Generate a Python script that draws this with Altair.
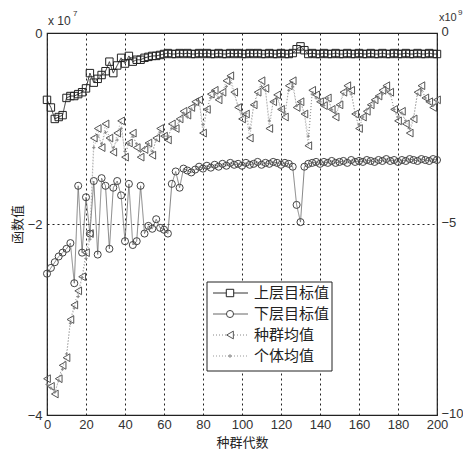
import altair as alt
import pandas as pd

# generations (every 2nd generation)
gens = list(range(0, 201, 2))

series_names = ["上层目标值", "下层目标值", "种群均值", "个体均值"]

# left axis (x 10^7)
upper = [
    -0.70, -0.78, -0.90, -0.88, -0.86, -0.68, -0.66, -0.66, -0.64, -0.62,
    -0.58, -0.42, -0.52, -0.48, -0.44, -0.40, -0.30, -0.42, -0.34, -0.26,
    -0.32, -0.24, -0.30, -0.28, -0.28, -0.26, -0.25, -0.24, -0.24, -0.23,
    -0.22, -0.21, -0.22, -0.22, -0.21, -0.22, -0.21, -0.22, -0.22, -0.21,
    -0.22, -0.21, -0.22, -0.22, -0.21, -0.22, -0.22, -0.21, -0.22, -0.21,
    -0.22, -0.22, -0.21, -0.22, -0.21, -0.22, -0.22, -0.21, -0.22, -0.22,
    -0.21, -0.22, -0.22, -0.21, -0.17, -0.14, -0.18, -0.22, -0.21, -0.22,
    -0.22, -0.21, -0.22, -0.22, -0.21, -0.22, -0.22, -0.21, -0.22, -0.22,
    -0.21, -0.22, -0.22, -0.21, -0.22, -0.22, -0.21, -0.22, -0.22, -0.21,
    -0.22, -0.22, -0.21, -0.22, -0.22, -0.21, -0.22, -0.22, -0.21, -0.22,
    -0.22,
]
lower = [
    -2.52, -2.46, -2.40, -2.34, -2.30, -2.26, -2.20, -2.62, -1.60, -2.30,
    -1.72, -2.10, -1.55, -2.32, -1.52, -1.60, -2.26, -1.62, -1.55, -1.70,
    -2.18, -1.58, -2.22, -2.18, -1.60, -2.10, -2.02, -2.05, -1.95, -2.04,
    -2.06, -2.10, -1.58, -1.45, -1.62, -1.42, -1.44, -1.46, -1.43, -1.40,
    -1.42, -1.39, -1.41, -1.38, -1.40, -1.37, -1.39, -1.36, -1.38, -1.37,
    -1.39, -1.36, -1.38, -1.37, -1.35, -1.38, -1.36, -1.37, -1.35, -1.36,
    -1.38, -1.36, -1.37, -1.40, -1.80, -1.98, -1.40, -1.37, -1.36, -1.35,
    -1.37, -1.35, -1.36, -1.34, -1.36, -1.35, -1.34, -1.36, -1.33, -1.35,
    -1.34, -1.35, -1.33, -1.34, -1.35, -1.33, -1.34, -1.32, -1.34, -1.33,
    -1.35, -1.33, -1.34, -1.32, -1.33, -1.34, -1.32, -1.33, -1.34, -1.32,
    -1.33,
]
# right axis (x 10^9)
pop_mean = [
    -9.05, -9.25, -9.45, -9.05, -8.70, -8.50, -7.50, -7.12, -6.75, -6.38,
    -5.75, -5.25, -2.75, -2.50, -3.00, -2.38, -2.75, -3.12, -2.62, -2.30,
    -3.25, -2.88, -2.62, -3.00, -3.25, -3.05, -2.88, -3.20, -2.75, -2.50,
    -2.70, -2.80, -2.38, -2.50, -2.25, -2.05, -2.15, -1.95, -1.80, -1.75,
    -2.62, -2.00, -1.60, -1.50, -1.75, -1.55, -1.25, -1.12, -1.55, -1.95,
    -2.25, -2.12, -2.75, -1.88, -1.55, -1.25, -1.45, -2.50, -1.80, -1.62,
    -2.00, -2.20, -1.38, -1.25, -1.95, -1.80, -2.12, -2.95, -1.50, -1.62,
    -1.80, -1.90, -1.70, -2.00, -2.20, -1.88, -1.55, -1.38, -1.50, -2.12,
    -2.50, -2.20, -2.05, -1.88, -1.75, -1.65, -1.50, -1.38, -1.55, -2.00,
    -2.30, -2.05, -2.38, -2.62, -2.25, -1.55, -1.38, -1.70, -1.80, -1.95,
    -1.75,
]
ind_mean = [
    -9.2, -9.3, -9.4, -9.1, -8.8, -8.4, -7.6, -7.2, -6.9, -6.4,
    -5.9, -5.4, -3.0, -2.7, -2.9, -2.6, -2.8, -3.0, -2.8, -2.5,
    -3.1, -2.9, -2.7, -2.9, -3.1, -3.0, -2.9, -3.1, -2.8, -2.6,
    -2.7, -2.7, -2.5, -2.5, -2.3, -2.1, -2.2, -2.0, -1.9, -1.8,
    -2.4, -2.0, -1.7, -1.6, -1.7, -1.6, -1.4, -1.3, -1.6, -1.9,
    -2.1, -2.1, -2.5, -1.9, -1.6, -1.4, -1.5, -2.3, -1.8, -1.7,
    -2.0, -2.1, -1.5, -1.4, -1.9, -1.8, -2.1, -2.7, -1.6, -1.7,
    -1.8, -1.9, -1.7, -2.0, -2.1, -1.9, -1.6, -1.5, -1.6, -2.1,
    -2.4, -2.2, -2.0, -1.9, -1.8, -1.7, -1.6, -1.5, -1.6, -2.0,
    -2.2, -2.1, -2.3, -2.5, -2.2, -1.6, -1.5, -1.7, -1.8, -1.9,
    -1.8,
]

x_ticks = list(range(0, 201, 20))
left_ticks = [0, -2, -4]
right_ticks = [0, -5, -10]

FONT = "Liberation Sans"
CJK = "Noto Sans CJK SC"
PLUS = "M-1,0H1M0,-1V1"

xs = alt.Scale(domain=[0, 200], nice=False, zero=False)
ysL = alt.Scale(domain=[-4, 0], nice=False, zero=False)
ysR = alt.Scale(domain=[-10, 0], nice=False, zero=False)

xaxis = alt.Axis(values=x_ticks, grid=True, gridDash=[2, 3], gridColor="#222",
                 gridWidth=1, ticks=False, domain=False, labelFontSize=13,
                 labelPadding=3, labelFont=FONT, labelColor="#333", labelFlush=False,
                 title="种群代数", titleFont=CJK, titleFontSize=13,
                 titleFontWeight="normal", titleColor="#222", titlePadding=5)
yaxisL = alt.Axis(values=left_ticks, grid=True, gridDash=[2, 3], gridColor="#222",
                  gridWidth=1, ticks=False, domain=False, labelFontSize=13,
                  labelPadding=5, labelFont=FONT, labelColor="#333", labelFlush=False,
                  title="函数值", titleFont=CJK, titleFontSize=13,
                  titleFontWeight="normal", titleColor="#222", titlePadding=3)
yaxisR = alt.Axis(values=right_ticks, orient="right", grid=False, ticks=False,
                  domain=False, labelFontSize=13, labelPadding=4, labelFont=FONT,
                  labelColor="#333", labelFlush=False, labelOffset=-2, title=None)

styles = {
    "上层目标值": dict(shape="square", size=55, color="#222", line="#333", dash=[1, 0], lw=1.0),
    "下层目标值": dict(shape="circle", size=50, color="#444", line="#666", dash=[1, 0], lw=0.8),
    "种群均值": dict(shape="triangle-left", size=60, color="#555", line="#888", dash=[1, 2], lw=0.8),
    "个体均值": dict(shape=PLUS, size=10, color="#888", line="#999", dash=[1, 2], lw=0.8),
}


def series(name, values, yscale, yaxis):
    st = styles[name]
    df = pd.DataFrame({"gen": gens, "value": values})
    base = alt.Chart(df).encode(
        x=alt.X("gen:Q", scale=xs, axis=xaxis),
        y=alt.Y("value:Q", scale=yscale, axis=yaxis),
    )
    ln = base.mark_line(color=st["line"], strokeWidth=st["lw"], strokeDash=st["dash"])
    pt = base.mark_point(shape=st["shape"], size=st["size"], filled=False,
                         color=st["color"], strokeWidth=1, opacity=1)
    return [ln, pt]


# legend (decoration)
leg_layers = []
leg_layers.append(
    alt.Chart(pd.DataFrame({"a": [0]})).mark_rect(fill="white", stroke="#222", strokeWidth=1)
    .encode(x=alt.value(160), x2=alt.value(285), y=alt.value(249), y2=alt.value(338))
)
row_y = [260, 281, 302, 323]
for name, yy in zip(series_names, row_y):
    st = styles[name]
    one = pd.DataFrame({"label": [name]})
    leg_layers.append(
        alt.Chart(one).mark_rule(color=st["line"] if name != "上层目标值" else "#333",
                                 strokeWidth=1, strokeDash=st["dash"])
        .encode(x=alt.value(166), x2=alt.value(201), y=alt.value(yy))
    )
    leg_layers.append(
        alt.Chart(one).mark_point(shape=st["shape"], size=st["size"] if name != "个体均值" else 14,
                                  filled=True, fill="white", stroke=st["color"], strokeWidth=1,
                                  opacity=1)
        .encode(x=alt.value(183), y=alt.value(yy))
    )
    leg_layers.append(
        alt.Chart(one).mark_text(align="left", baseline="middle", font=CJK, fontSize=15,
                                 color="#222")
        .encode(x=alt.value(207), y=alt.value(yy), text="label:N")
    )

# exponent annotations
def ann(txt, x, y, size):
    return alt.Chart(pd.DataFrame({"t": [txt]})).mark_text(
        align="left", baseline="middle", font=FONT, fontSize=size, color="#333"
    ).encode(x=alt.value(x), y=alt.value(y), text="t:N")

anns = [ann("x 10", 1, -12, 12), ann("7", 26, -19, 8),
        ann("x10", 392, -15, 11), ann("9", 411, -20, 8)]

left_group = alt.layer(
    *series("上层目标值", upper, ysL, yaxisL),
    *series("下层目标值", lower, ysL, yaxisL),
)
right_group = alt.layer(
    *series("种群均值", pop_mean, ysR, yaxisR),
    *series("个体均值", ind_mean, ysR, yaxisR),
)
deco = alt.layer(*leg_layers, *anns)

chart = alt.layer(left_group, right_group, deco).resolve_scale(y="independent").properties(
    width=390, height=382,
    padding={"left": 39, "top": 25, "right": 26, "bottom": 35},
    autosize=alt.AutoSizeParams(type="none"),
    background="white",
).configure_view(stroke="#222", strokeWidth=1.2)

chart.save("out.html", embed_options={"renderer": "svg", "actions": False})
